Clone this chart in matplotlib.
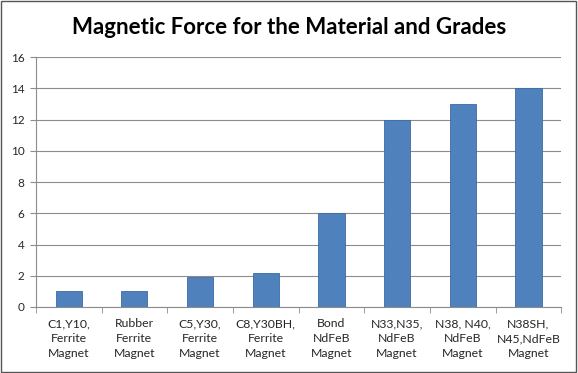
import numpy as np
import matplotlib
matplotlib.use("Agg")
import matplotlib.pyplot as plt
from matplotlib.patches import Rectangle

categories = [
    "C1,Y10,\nFerrite\nMagnet",
    "Rubber\nFerrite\nMagnet",
    "C5,Y30,\nFerrite\nMagnet",
    "C8,Y30BH,\nFerrite\nMagnet",
    "Bond\nNdFeB\nMagnet",
    "N33,N35,\nNdFeB\nMagnet",
    "N38, N40,\nNdFeB\nMagnet",
    "N38SH,\nN45,NdFeB\nMagnet",
]
force = [1, 1, 1.9, 2.2, 6, 12, 13, 14]
yticks = [0, 2, 4, 6, 8, 10, 12, 14, 16]

plt.rcParams['font.family'] = ['Lato', 'DejaVu Sans']

fig = plt.figure(figsize=(5.78, 3.73), dpi=100)
ax = fig.add_axes([0.062, 0.177, 0.909, 0.67])

x = np.arange(len(categories))
ax.bar(x, force, width=0.4, color="#4F81BD", edgecolor="#3B6BA5",
       linewidth=0.6, zorder=3)

ax.set_xlim(-0.5, len(categories) - 0.5)
ax.set_ylim(0, 16)
ax.set_yticks(yticks)
ax.set_yticklabels([str(v) for v in yticks], fontsize=8.5, color="#262626")
ax.yaxis.grid(True, color="#8C8C8C", linewidth=0.8, zorder=0)

ax.set_xticks(x)
ax.set_xticklabels(categories, fontsize=8.8, color="#262626", linespacing=1.45)
ax.set_xticks(np.arange(-0.5, len(categories)), minor=True)
ax.tick_params(axis="x", which="major", length=0, pad=8)
ax.tick_params(axis="x", which="minor", length=4, color="#8C8C8C")
ax.tick_params(axis="y", length=4, color="#8C8C8C", pad=4)

for side in ["top", "right"]:
    ax.spines[side].set_visible(False)
for side in ["left", "bottom"]:
    ax.spines[side].set_color("#8C8C8C")
    ax.spines[side].set_linewidth(0.8)

fig.text(0.5, 0.925, "Magnetic Force for the Material and Grades",
         ha="center", va="center", fontsize=16, fontweight="bold")

# outer chart border
fig.patches.append(Rectangle((0.002, 0.003), 0.995, 0.994, transform=fig.transFigure,
                             fill=False, edgecolor="#555555", linewidth=1.0))

fig.savefig("out.png", dpi=100)
